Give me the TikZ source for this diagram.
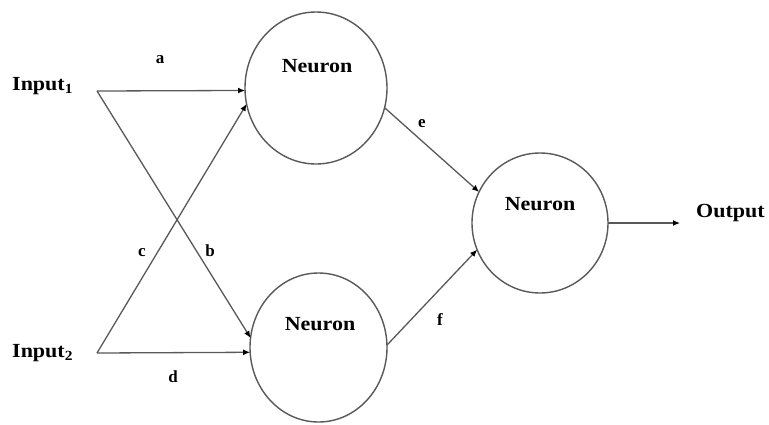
\documentclass[tikz,border=0pt]{standalone}
\usepackage{fontspec}
\setmainfont{Liberation Serif}
\usetikzlibrary{shapes.geometric,arrows.meta}
\newcommand{\wtxt}[1]{\scalebox{1.1}[1]{#1}}
\begin{document}
\begin{tikzpicture}[x=1pt,y=-1pt,
  neuron/.style={draw=black!65,line width=1.4pt,ellipse,inner sep=0pt,outer sep=0pt},
  ntext/.style={font=\fontsize{20}{22}\selectfont\bfseries,inner sep=0pt},
  lbl/.style={font=\fontsize{17}{19}\selectfont\bfseries,inner sep=0pt},
  conn/.style={draw=black!65,line width=1.3pt,-{Latex[length=7pt,width=6pt,black]}}]
\useasboundingbox[fill=white] (0,0) rectangle (769,424);
% neurons
\node[neuron,minimum width=142pt,minimum height=152pt] (n1) at (316,88) {};
\node[neuron,minimum width=137pt,minimum height=149pt] (n2) at (318.5,347.5) {};
\node[neuron,minimum width=136pt,minimum height=140pt] (n3) at (540,223) {};
\node[ntext] (t1) at (317,66) {\wtxt{Neuron}};
\node[ntext] (t2) at (320,324) {\wtxt{Neuron}};
\node[ntext] (t3) at (540,204) {\wtxt{Neuron}};
% inputs and output
\node[ntext,anchor=west] (i1) at (12,86) {\wtxt{Input\textsubscript{1}}};
\node[ntext,anchor=west] (i2) at (12,353) {\wtxt{Input\textsubscript{2}}};
\node[ntext,anchor=west] (o) at (696,213) {\wtxt{Output}};
\coordinate (s1) at (97,91);
\coordinate (s2) at (97,353);
\coordinate (oe) at (680,223);
% connectors
\draw[conn] (s1) -- (n1.182);
\draw[conn] (s1) -- (n2.172.5);
\draw[conn] (s2) -- (n1.193);
\draw[conn] (s2) -- (n2.184.4);
\draw[conn] (n1.-16) -- (n3.153);
\draw[conn] (n2.2) -- (n3.203);
\draw[conn] (n3.east) -- (oe);
% labels
\node[lbl] (la) at (160,60) {a};
\node[lbl] (lb) at (210,251) {b};
\node[lbl] (lc) at (142,253) {c};
\node[lbl] (ld) at (173,377) {d};
\node[lbl] (le) at (422,124) {e};
\node[lbl] (lf) at (440,320) {f};
\end{tikzpicture}
\end{document}
